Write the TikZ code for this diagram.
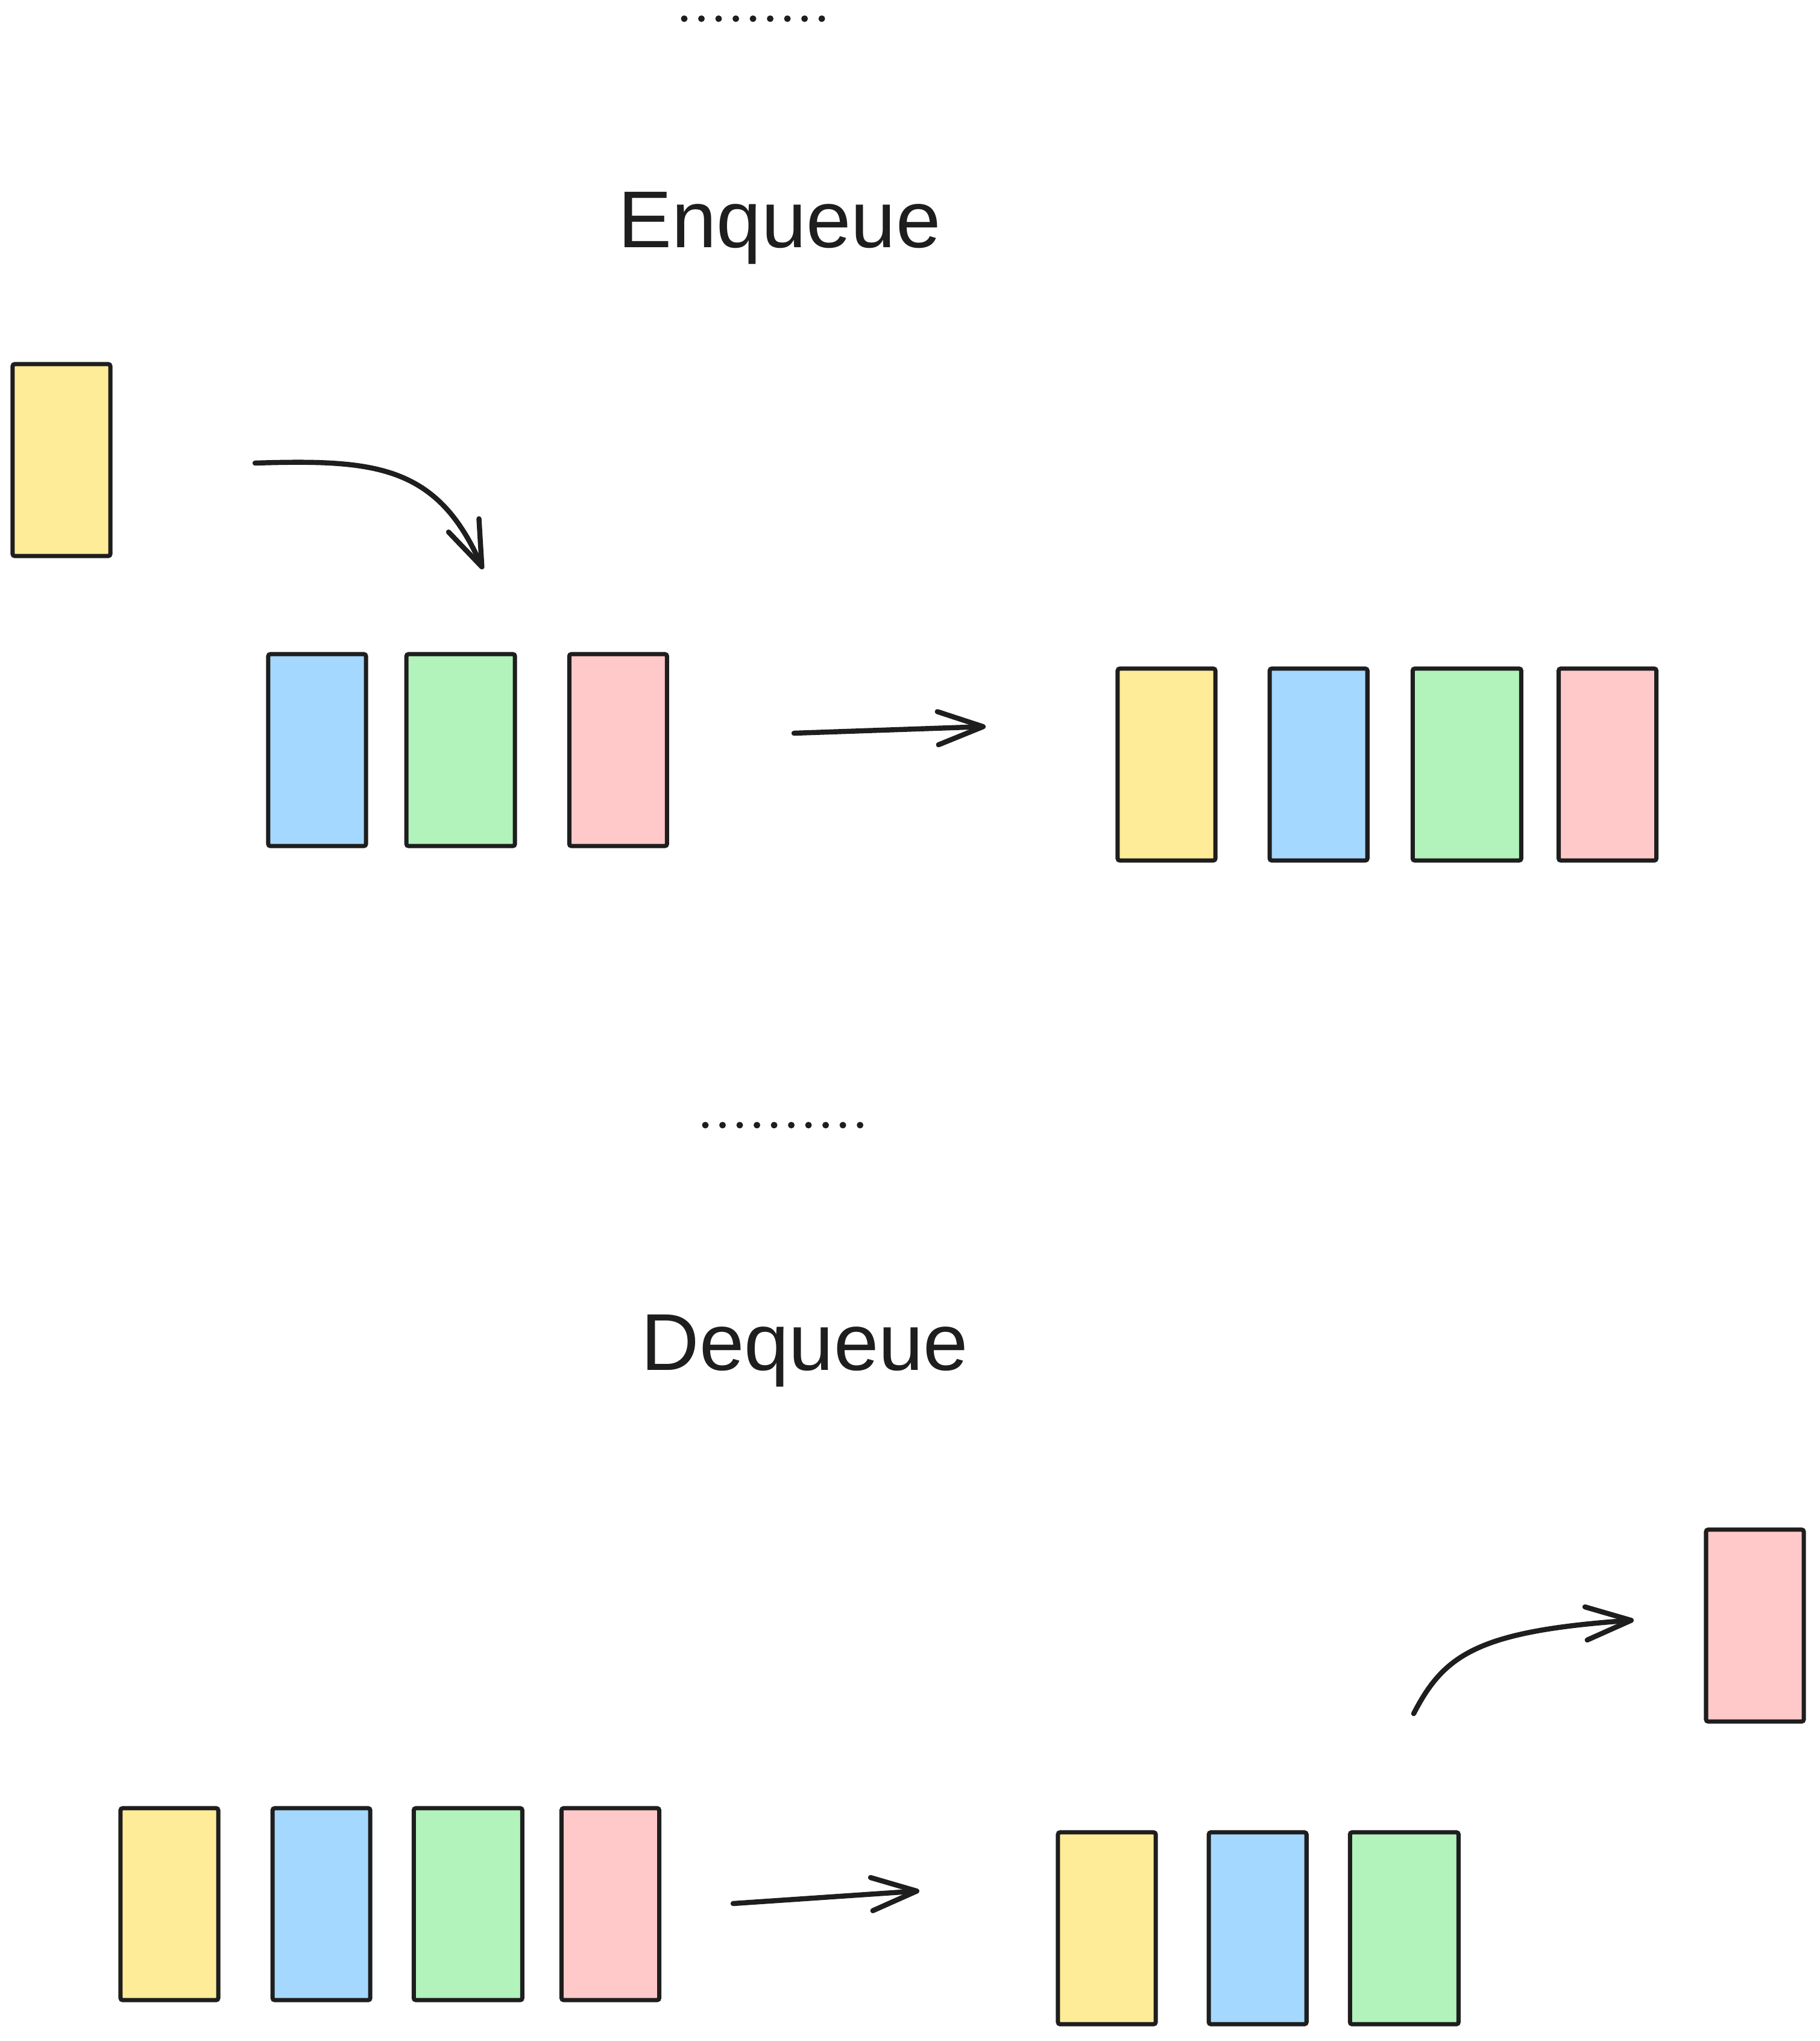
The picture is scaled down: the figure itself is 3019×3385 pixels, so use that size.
\documentclass[tikz,border=0pt]{standalone}
\usepackage{fontspec}
\setmainfont{Liberation Sans}
\usetikzlibrary{arrows.meta,positioning}
\definecolor{ink}{HTML}{1E1E1E}
\definecolor{qyellow}{HTML}{FFEC99}
\definecolor{qblue}{HTML}{A5D8FF}
\definecolor{qgreen}{HTML}{B2F2BB}
\definecolor{qred}{HTML}{FFC9C9}

\begin{document}
\begin{tikzpicture}[x=0.01cm,y=-0.01cm,
  box/.style={draw=ink,fill=#1,line width=2pt,rounded corners=1pt,minimum width=1.62cm,minimum height=3.18cm,inner sep=0pt},
  wide/.style={minimum width=1.8cm},
  arr/.style={draw=ink,line width=2.4pt,line cap=round,-{Straight Barb[length=0.75cm,width=0.55cm,round]}},
  dots/.style={draw=ink,line width=0.11cm,line cap=round,dash pattern=on 0pt off 0.285cm},
  title/.style={font=\fontsize{38}{40}\selectfont,text=ink,anchor=base}]
  \useasboundingbox (0,0) rectangle (3019,3385);

  % enqueue
  \draw[dots] (1135,31) -- (1364,31);
  \node[title] (enq) at (1293,410) {Enqueue};
  \node[box=qyellow] (new) at (102,763) {};
  \node[box=qblue] (eb1) at (526,1244) {};
  \node[box=qgreen,wide,right=0.6cm of eb1] (eg1) {};
  \node[box=qred,right=0.83cm of eg1] (er1) {};
  \node[box=qyellow] (ey2) at (1935,1268) {};
  \node[box=qblue,right=0.83cm of ey2] (eb2) {};
  \node[box=qgreen,wide,right=0.68cm of eb2] (eg2) {};
  \node[box=qred,right=0.55cm of eg2] (er2) {};
  \coordinate (in1) at (423,768);
  \coordinate (in2) at (801,944);
  \draw[arr] (in1) .. controls (620,762) and (725,770) .. (in2);
  \coordinate (go1) at (1317,1216);
  \coordinate (go2) at (1635,1205);
  \draw[arr] (go1) -- (go2);

  % dequeue
  \draw[dots] (1170,1866) -- (1428,1866);
  \node[title] (deq) at (1335,2272) {Dequeue};
  \node[box=qyellow] (dy1) at (281,3158) {};
  \node[box=qblue,right=0.83cm of dy1] (db1) {};
  \node[box=qgreen,wide,right=0.65cm of db1] (dg1) {};
  \node[box=qred,right=0.58cm of dg1] (dr1) {};
  \node[box=qyellow] (dy2) at (1836,3198) {};
  \node[box=qblue,right=0.81cm of dy2] (db2) {};
  \node[box=qgreen,wide,right=0.65cm of db2] (dg2) {};
  \node[box=qred] (out) at (2911,2696) {};
  \coordinate (go3) at (1216,3157);
  \coordinate (go4) at (1525,3136);
  \draw[arr] (go3) -- (go4);
  \coordinate (up1) at (2345,2842);
  \coordinate (up2) at (2710,2687);
  \draw[arr] (up1) .. controls (2395,2745) and (2450,2705) .. (up2);
\end{tikzpicture}
\end{document}
